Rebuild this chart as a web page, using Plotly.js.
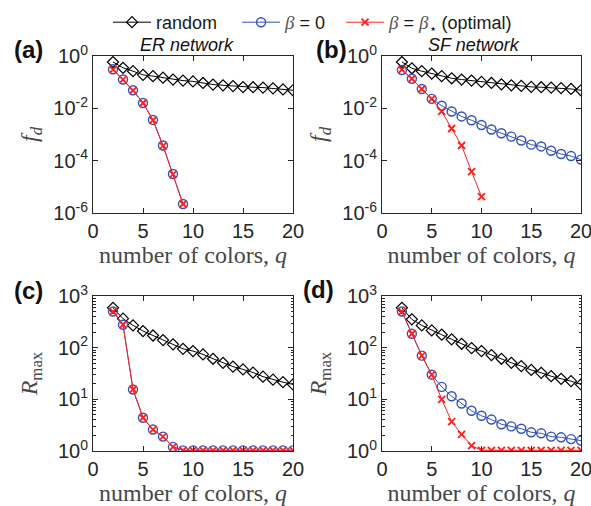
<!DOCTYPE html>
<html>
<head>
<meta charset="utf-8">
<script src="https://cdn.plot.ly/plotly-3.0.1.min.js"></script>
<style>html,body{margin:0;padding:0;background:#fff;}#chart{width:591px;height:506px;}</style>
</head>
<body>
<div id="chart"></div>
<script>
// ---- data ----
const q = [2,3,4,5,6,7,8,9,10,11,12,13,14,15,16,17,18,19,20];
const qA = [2,3,4,5,6,7,8,9];
const qOptB = [2,3,4,5,6,7,8,9,10];

const randA_fd = [0.59,0.355,0.263,0.19,0.17,0.148,0.126,0.115,0.107,0.093,0.081,0.076,0.071,0.065,0.064,0.062,0.058,0.053,0.049];
const b0A_fd   = [0.31,0.126,0.049,0.016,0.0036,3.8e-4,3.1e-5,2.2e-6];
const optA_fd  = [0.30,0.125,0.048,0.016,0.0035,3.7e-4,3.0e-5,2.2e-6];

const randB_fd = [0.59,0.34,0.263,0.214,0.17,0.141,0.126,0.115,0.102,0.093,0.083,0.076,0.072,0.066,0.064,0.062,0.059,0.055,0.049];
const b0B_fd   = [0.29,0.135,0.055,0.023,0.0126,0.0076,0.0049,0.0035,0.0023,0.00155,0.00112,8.3e-4,5.9e-4,4.1e-4,3.5e-4,2.4e-4,1.8e-4,1.5e-4,1.1e-4];
const optB_fd  = [0.30,0.135,0.055,0.023,0.0076,0.0017,3.8e-4,3.8e-5,4.2e-6];

const randC_R = [590,364,270,210,172,140,116,95,86,74,61,51,43,38,33,27.5,24,21.5,19.4];
const b0C_R   = [500,278,15.5,4.4,2.6,1.9,1.2,1.03,1.03,1.03,1.03,1.03,1.03,1.03,1.03,1.03,1.03,1.03,1.03];
const optC_R  = [500,278,15.5,4.4,2.6,1.9,1.2,1.03,1.03,1.03,1.03,1.03,1.03,1.03,1.03,1.03,1.03,1.03,1.03];

const randD_R = [590,353,270,216,178,145,119,98,86,72,61,51,44,37,32.6,28,25,22.5,19.4];
const b0D_R   = [500,186,70,30,17.4,11.5,8.3,6.0,4.8,4.06,3.3,3.0,2.7,2.3,2.2,1.9,1.84,1.7,1.59];
const optD_R  = [500,186,70,30,10,3.7,2.1,1.27,1.03,1.03,1.03,1.03,1.03,1.03,1.03,1.03,1.03,1.03,1.03];

const fdTicks = [1e-6,1e-4,1e-2,1];
const fdText  = ['10<sup>-6</sup>','10<sup>-4</sup>','10<sup>-2</sup>','10<sup>0</sup>'];
const RTicks  = [1,10,100,1000];
const RText   = ['10<sup>0</sup>','10<sup>1</sup>','10<sup>2</sup>','10<sup>3</sup>'];
const xTicks  = [0,5,10,15,20];

const SERIF = 'Liberation Serif';
const NB = '\u00a0';
const beta = '<span style="font-family:' + SERIF + ';font-size:19px;fill:#555"><i>β</i></span>';
const names = ['random' + NB + NB + NB,
  beta + ' = 0' + NB + NB,
  beta + ' = ' + beta + '<sub>⋆</sub> (optimal)'];

// ---- styles ----
const BLACK = '#000000', BLUE = '#3352bd', RED = '#ff2020';
function randTrace(x, y, xa, ya, show){
  return {x:x, y:y, xaxis:xa, yaxis:ya, type:'scatter', mode:'lines+markers', name:names[0], showlegend:show, legendgroup:'r',
    line:{color:BLACK, width:1}, marker:{symbol:'diamond-open', size:8.5, color:BLACK, line:{width:1.2, color:BLACK}}};
}
function b0Trace(x, y, xa, ya, show){
  return {x:x, y:y, xaxis:xa, yaxis:ya, type:'scatter', mode:'lines+markers', name:names[1], showlegend:show, legendgroup:'b',
    line:{color:BLUE, width:1}, marker:{symbol:'circle-open', size:9, color:BLUE, line:{width:1.4, color:BLUE}}};
}
function optTrace(x, y, xa, ya, show){
  return {x:x, y:y, xaxis:xa, yaxis:ya, type:'scatter', mode:'lines+markers', name:names[2], showlegend:show, legendgroup:'o',
    line:{color:RED, width:1}, marker:{symbol:'x-thin-open', size:7, color:RED, line:{width:1.9, color:RED}}};
}

const data = [
  randTrace(q, randA_fd, 'x', 'y', true),
  b0Trace(qA, b0A_fd, 'x', 'y', true),
  optTrace(qA, optA_fd, 'x', 'y', true),
  randTrace(q, randB_fd, 'x2', 'y2', false),
  b0Trace(q, b0B_fd, 'x2', 'y2', false),
  optTrace(qOptB, optB_fd, 'x2', 'y2', false),
  randTrace(q, randC_R, 'x3', 'y3', false),
  b0Trace(q, b0C_R, 'x3', 'y3', false),
  optTrace(q, optC_R, 'x3', 'y3', false),
  randTrace(q, randD_R, 'x4', 'y4', false),
  b0Trace(q, b0D_R, 'x4', 'y4', false),
  optTrace(q, optD_R, 'x4', 'y4', false)
];

const W = 591, H = 506;
const AX = '#262626';
const tickFont = {family:'Liberation Sans, Arial, sans-serif', size:20, color:AX};
const titleFont = {family:SERIF + ', Times New Roman, serif', size:24, color:'#474747'};

function xax(l, r, anchor){
  return {domain:[l/W, r/W], anchor:anchor, range:[0,20], tickvals:xTicks, ticks:'inside', ticklen:5, tickcolor:AX,
    showline:true, linecolor:AX, linewidth:1, mirror:'ticks', showgrid:false, zeroline:false, tickfont:tickFont,
    ticklabeloverflow:'allow',
    title:{text:'number of colors, <i>q</i>', font:titleFont, standoff:3}};
}
function yax(top, bot, anchor, range, tv, tt, title, minor, stand){
  const a = {domain:[1-bot/H, 1-top/H], anchor:anchor, type:'log', range:range, tickvals:tv, ticktext:tt,
    ticks:'inside', ticklen:5, tickcolor:AX, showline:true, linecolor:AX, linewidth:1, mirror:'ticks',
    showgrid:false, zeroline:false, tickfont:tickFont, ticklabeloverflow:'allow',
    title:{text:title, font:titleFont, standoff:stand}};
  if (minor) a.minor = {ticks:'inside', ticklen:2.5, tickcolor:AX, dtick:'D1', showgrid:false};
  return a;
}

const layout = {
  width:W, height:H, margin:{l:0, r:0, t:0, b:0}, paper_bgcolor:'#fff', plot_bgcolor:'#fff',
  showlegend:true,
  legend:{orientation:'h', x:108/W, xanchor:'left', y:1-4/H, yanchor:'top', font:{family:'Liberation Sans, Arial, sans-serif', size:18, color:'#1a1a1a'},
    bgcolor:'rgba(0,0,0,0)', itemwidth:38, tracegroupgap:0},
  xaxis: xax(93, 293, 'y'),
  yaxis: yax(56, 213, 'x', [-6,0], fdTicks, fdText, '<i>f</i><sub><i>d</i></sub>', false, 8),
  xaxis2: xax(382, 581, 'y2'),
  yaxis2: yax(56, 213, 'x2', [-6,0], fdTicks, fdText, '<i>f</i><sub><i>d</i></sub>', false, 8),
  xaxis3: xax(93, 293, 'y3'),
  yaxis3: yax(296, 451, 'x3', [0,3], RTicks, RText, '<i>R</i><sub>max</sub>', true, 13),
  xaxis4: xax(382, 581, 'y4'),
  yaxis4: yax(296, 451, 'x4', [0,3], RTicks, RText, '<i>R</i><sub>max</sub>', true, 13),
  annotations: [
    {text:'<b>(a)</b>', x:12/W, y:1-50/H, xref:'paper', yref:'paper', xanchor:'left', yanchor:'middle', showarrow:false, font:{family:'Liberation Sans, Arial', size:24, color:'#111'}},
    {text:'<b>(b)</b>', x:314/W, y:1-49/H, xref:'paper', yref:'paper', xanchor:'left', yanchor:'middle', showarrow:false, font:{family:'Liberation Sans, Arial', size:24, color:'#111'}},
    {text:'<b>(c)</b>', x:12/W, y:1-290/H, xref:'paper', yref:'paper', xanchor:'left', yanchor:'middle', showarrow:false, font:{family:'Liberation Sans, Arial', size:24, color:'#111'}},
    {text:'<b>(d)</b>', x:301/W, y:1-289/H, xref:'paper', yref:'paper', xanchor:'left', yanchor:'middle', showarrow:false, font:{family:'Liberation Sans, Arial', size:24, color:'#111'}},
    {text:'<i>ER network</i>', x:187/W, y:1-45/H, xref:'paper', yref:'paper', xanchor:'center', yanchor:'middle', showarrow:false, font:{family:'Liberation Sans, Arial', size:18, color:'#111'}},
    {text:'<i>SF network</i>', x:474/W, y:1-45/H, xref:'paper', yref:'paper', xanchor:'center', yanchor:'middle', showarrow:false, font:{family:'Liberation Sans, Arial', size:18, color:'#111'}}
  ]
};

Plotly.newPlot('chart', data, layout, {displayModeBar:false, staticPlot:true});
</script>
</body>
</html>
